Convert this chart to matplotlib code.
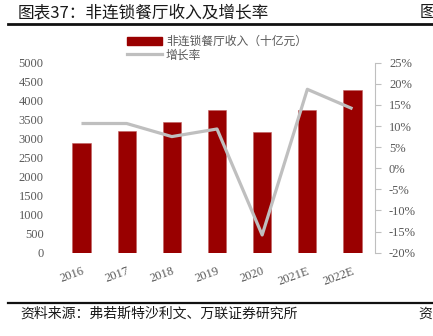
import matplotlib
matplotlib.use("Agg")
import matplotlib.pyplot as plt
import numpy as np
from matplotlib.patches import Patch
from matplotlib.lines import Line2D

years = ["2016", "2017", "2018", "2019", "2020", "2021E", "2022E"]
revenue = [2895, 3203, 3440, 3756, 3169, 3764, 4290]
growth = [10.6, 10.6, 7.5, 9.3, -15.8, 18.7, 14.1]
left_ticks = list(range(0, 5001, 500))
right_ticks = list(range(-20, 26, 5))

title = "图表37：非连锁餐厅收入及增长率"
source = "资料来源：弗若斯特沙利文、万联证券研究所"
bar_label = "非连锁餐厅收入（十亿元）"
line_label = "增长率"

CJK = ["Noto Sans CJK SC", "DejaVu Sans"]
SERIF = ["Liberation Serif", "DejaVu Serif"]
TXT = "#595959"
RED = "#990000"
GRAY = "#BFBFBF"

W, H = 433, 336
fig = plt.figure(figsize=(W / 100, H / 100), dpi=100)

left, right = 58.9, 375.1
top, bottom = 62.7, 252.7
ax = fig.add_axes([left / W, 1 - bottom / H, (right - left) / W, (bottom - top) / H])
ax2 = ax.twinx()

x = np.arange(len(years))
ax.bar(x, revenue, width=0.4, color=RED, edgecolor="#c06060", linewidth=0.4, zorder=2)
ax.set_ylim(0, 5000)
ax.set_xlim(-0.5, len(years) - 0.5)
ax.set_yticks(left_ticks)
ax.set_yticklabels([str(v) for v in left_ticks], family=SERIF, fontsize=9, color=TXT)
ax.tick_params(axis="y", length=0, pad=11)
ax.set_xticks(x)
ax.set_xticklabels(years, family=SERIF, fontsize=9, color=TXT, rotation=20,
                   ha="right", va="top", rotation_mode="anchor")
ax.tick_params(axis="x", length=0, pad=9)
for s in ax.spines.values():
    s.set_visible(False)

ax2.plot(x, growth, color=GRAY, linewidth=2.3, solid_capstyle="butt", zorder=3)
ax2.set_ylim(-20, 25)
ax2.set_yticks(right_ticks)
ax2.set_yticklabels([f"{v}%" for v in right_ticks], family=SERIF, fontsize=9, color=TXT)
ax2.tick_params(axis="y", length=4, width=0.8, color=GRAY, pad=6)
for k, s in ax2.spines.items():
    s.set_visible(k == "right")
ax2.spines["right"].set_color(GRAY)
ax2.spines["right"].set_linewidth(0.8)

handles = [Patch(facecolor=RED, edgecolor=RED), Line2D([0], [0], color=GRAY, linewidth=2.3)]
leg = fig.legend(handles, [bar_label, line_label], loc="upper left",
                 bbox_to_anchor=(127 / W, 1 - 35 / H), frameon=False,
                 prop={"family": CJK, "size": 8.5}, handlelength=3.0, handleheight=0.7,
                 handletextpad=0.3, labelspacing=0.05, borderpad=0, borderaxespad=0)
for t in leg.get_texts():
    t.set_color(TXT)

fig.text(18 / W, 1 - 13 / H, title, family=CJK, fontsize=12, color="#1a1a1a",
         va="center", ha="left")
fig.text(420 / W, 1 - 13 / H, "图", family=CJK, fontsize=12, color="#1a1a1a",
         va="center", ha="left")
fig.add_artist(Line2D([8 / W, 1], [1 - 24 / H] * 2, color="#111111", linewidth=2.0))
fig.add_artist(Line2D([8 / W, 1], [1 - 303.3 / H] * 2, color="#111111", linewidth=1.6))
fig.text(20 / W, 1 - 314 / H, source, family=CJK, fontsize=10, color="#1a1a1a",
         va="center", ha="left")
fig.text(418 / W, 1 - 314 / H, "资", family=CJK, fontsize=10, color="#1a1a1a",
         va="center", ha="left")

fig.savefig("out.png", dpi=100)
